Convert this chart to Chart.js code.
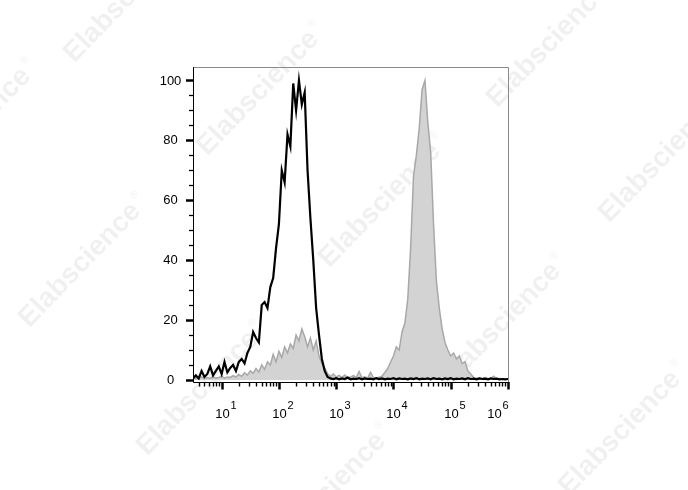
<!DOCTYPE html>
<html>
<head>
<meta charset="utf-8">
<script src="https://cdn.jsdelivr.net/npm/chart.js@4.4.1/dist/chart.umd.min.js"></script>
<style>
  body { margin: 0; background: #fff; }
  #wrap { width: 688px; height: 490px; }
</style>
</head>
<body>
<div id="wrap"><canvas id="histo" width="688" height="490"></canvas></div>
<script>
'use strict'

// bin centres, in decades (log10 of fluorescence)
const logX = [
  0.50,0.55,0.60,0.65,0.70,0.75,0.80,0.85,0.90,0.95,
  1.00,1.05,1.10,1.15,1.20,1.25,1.30,1.35,1.40,1.45,
  1.50,1.55,1.60,1.65,1.70,1.75,1.80,1.85,1.90,1.95,
  2.00,2.05,2.10,2.15,2.20,2.25,2.30,2.35,2.40,2.45,
  2.50,2.55,2.60,2.65,2.70,2.75,2.80,2.85,2.90,2.95,
  3.00,3.05,3.10,3.15,3.20,3.25,3.30,3.35,3.40,3.45,
  3.50,3.55,3.60,3.65,3.70,3.75,3.80,3.85,3.90,3.95,
  4.00,4.05,4.10,4.15,4.20,4.25,4.30,4.35,4.40,4.45,
  4.50,4.55,4.60,4.65,4.70,4.75,4.80,4.85,4.90,4.95,
  5.00,5.05,5.10,5.15,5.20,5.25,5.30,5.35,5.40,5.45,
  5.50,5.55,5.60,5.65,5.70,5.75,5.80,5.85,5.90,5.95,
  6.00
];

// black outline histogram (% of max)
const blackLine = [
  0.5,1.5,0.5,3,1,2,4.5,1.5,3,4.5,
  2,6,2.5,4,5,3,6,7,5.5,9,
  11,16,14,12.5,25,26,24,31,34,44,
  52,70,66,82,78,99,90,100,92,96,
  70,54,40,24,15,7,3,1,0.5,0.3,
  0.6,0.2,0.5,0.3,0.8,0.2,0.4,0.3,0.6,0.2,
  0.5,0.3,0.4,0.2,0.6,0.3,0.5,0.2,0.4,0.3,
  0.6,0.2,0.5,0.3,0.4,0.2,0.5,0.3,0.6,0.2,
  0.4,0.3,0.5,0.2,0.6,0.3,0.4,0.2,0.5,0.3,
  0.6,0.2,0.4,0.3,0.5,0.2,0.6,0.3,0.4,0.2,
  0.5,0.3,0.4,0.2,0.5,0.3,0.4,0.2,0.3,0.2,
  0.3
];

// grey filled histogram (% of max)
const greyFill = [
  0.8,0.4,0.6,1,0.4,0.8,0.5,1,0.6,0.8,
  1.2,0.6,1,0.8,1.4,1,1.8,1.2,2.4,1.6,
  3,2.2,3.8,2.6,5,3.5,6,5,8.5,6,
  9.5,7.5,11,9,12,10.5,15,13,17,14.5,
  11,14,10,13,8,5.5,4,2,1.2,2,
  1,1.5,0.8,1.6,0.7,1,1.4,0.8,2.8,0.7,
  1,0.6,2.5,0.8,0.6,0.9,1.2,2.5,3.8,6,
  8,11,10,16,19,27,44,68,75,84,
  97,100,86,76,52,33,24,17,12.5,10,
  8,9,7,8,5.5,6,3,2,0.8,0.5,
  0.6,0.4,0.8,0.4,0.5,1.2,0.4,0.5,0.3,0.4,
  0.3
];

const yTicks = [0, 20, 40, 60, 80, 100];
const xDecades = [1, 2, 3, 4, 5, 6];
const xBase = '10';
const markText = 'Elabscience';
// watermark centres
const markX = [125, -30, 258, 548, 80, 380, 660, 500, 198, 325, 620];
const markY = [0, 130, 93, 45, 265, 205, 160, 325, 393, 495, 433];

const ctx = document.getElementById('histo');

const toPts = vals => logX.map((v, i) => ({ x: v, y: vals[i] }));

const flowAxes = {
  id: 'flowAxes',
  beforeDatasetsDraw(chart) {
    const c = chart.ctx;
    c.save();
    c.fillStyle = 'rgba(0,0,0,0.06)';
    c.textAlign = 'center';
    c.textBaseline = 'middle';
    for (let i = 0; i < markX.length; i++) {
      c.save();
      c.translate(markX[i], markY[i]);
      c.rotate(-0.8);
      c.font = 'bold 28px Arial, "Liberation Sans"';
      c.fillText(markText, 0, 0);
      const w = c.measureText(markText).width;
      c.font = '11px Arial, "Liberation Sans"';
      c.fillText('\u00AE', w / 2 + 7, -10);
      c.restore();
    }
    c.restore();
  },
  afterDraw(chart) {
    const c = chart.ctx;
    const a = chart.chartArea;
    const x = chart.scales.x, y = chart.scales.y;
    c.save();
    // frame
    c.strokeStyle = '#8a8a8a';
    c.lineWidth = 1;
    c.beginPath();
    c.moveTo(a.left, a.top + 0.5);
    c.lineTo(a.right + 0.5, a.top + 0.5);
    c.lineTo(a.right + 0.5, a.bottom);
    c.stroke();
    c.strokeStyle = '#000';
    c.beginPath();
    c.moveTo(a.left + 0.5, a.top);
    c.lineTo(a.left + 0.5, a.bottom + 0.5);
    c.lineTo(a.right + 1, a.bottom + 0.5);
    c.stroke();

    // y ticks
    for (let v = 5; v <= 100; v += 5) {
      const py = Math.round(y.getPixelForValue(v)) + 0.5;
      const major = v % 20 === 0;
      c.lineWidth = major ? 2.5 : 1.3;
      c.beginPath();
      c.moveTo(a.left - (major ? 7 : 4), py);
      c.lineTo(a.left, py);
      c.stroke();
    }
    c.lineWidth = 2.5;
    c.beginPath();
    c.moveTo(a.left - 7, a.bottom - 1.5);
    c.lineTo(a.left, a.bottom - 1.5);
    c.stroke();
    c.fillStyle = '#000';
    c.font = '13px Arial, "Liberation Sans"';
    c.textAlign = 'center';
    c.textBaseline = 'middle';
    yTicks.forEach(v => {
      c.fillText(String(v), 170.5, y.getPixelForValue(v) + 0.5);
    });

    // x ticks (log decades with minor ticks)
    for (let d = 0; d < 6; d++) {
      for (let k = 2; k <= 9; k++) {
        const L = d + Math.log10(k);
        if (L <= 0.5) continue;
        const px = Math.round(x.getPixelForValue(L)) + 0.5;
        c.lineWidth = 1.4;
        c.beginPath();
        c.moveTo(px, a.bottom);
        c.lineTo(px, a.bottom + 4.5);
        c.stroke();
      }
    }
    xDecades.forEach((e, i) => {
      const px = Math.round(x.getPixelForValue(e)) + 0.5;
      c.lineWidth = 2.5;
      c.beginPath();
      c.moveTo(px, a.bottom);
      c.lineTo(px, a.bottom + 7.5);
      c.stroke();
      const cx = px - (i === xDecades.length - 1 ? 14 : 0);
      c.font = '13px Arial, "Liberation Sans"';
      c.textAlign = 'center';
      c.textBaseline = 'alphabetic';
      c.fillText(xBase, cx, 417.5);
      c.font = '11px Arial, "Liberation Sans"';
      c.textAlign = 'left';
      c.fillText(String(e), cx + 8, 408.5);
    });
    c.restore();
  }
};

new Chart(ctx, {
  type: 'line',
  data: {
    datasets: [
      {
        label: 'Black',
        data: toPts(blackLine),
        borderColor: '#000',
        borderWidth: 2.2,
        fill: false,
        pointRadius: 0,
        tension: 0,
        order: 0
      },
      {
        label: 'Grey',
        data: toPts(greyFill),
        borderColor: '#a8a8a8',
        backgroundColor: '#d3d3d3',
        borderWidth: 1.5,
        fill: 'origin',
        pointRadius: 0,
        tension: 0,
        order: 1
      }
    ]
  },
  options: {
    responsive: false,
    animation: false,
    layout: { padding: { left: 193, right: 180, top: 67, bottom: 108 } },
    plugins: { legend: { display: false }, tooltip: { enabled: false } },
    scales: {
      x: { type: 'linear', min: 0.5, max: 6, display: false },
      y: { min: -0.7, max: 104.5, display: false }
    }
  },
  plugins: [flowAxes]
});
</script>
</body>
</html>
